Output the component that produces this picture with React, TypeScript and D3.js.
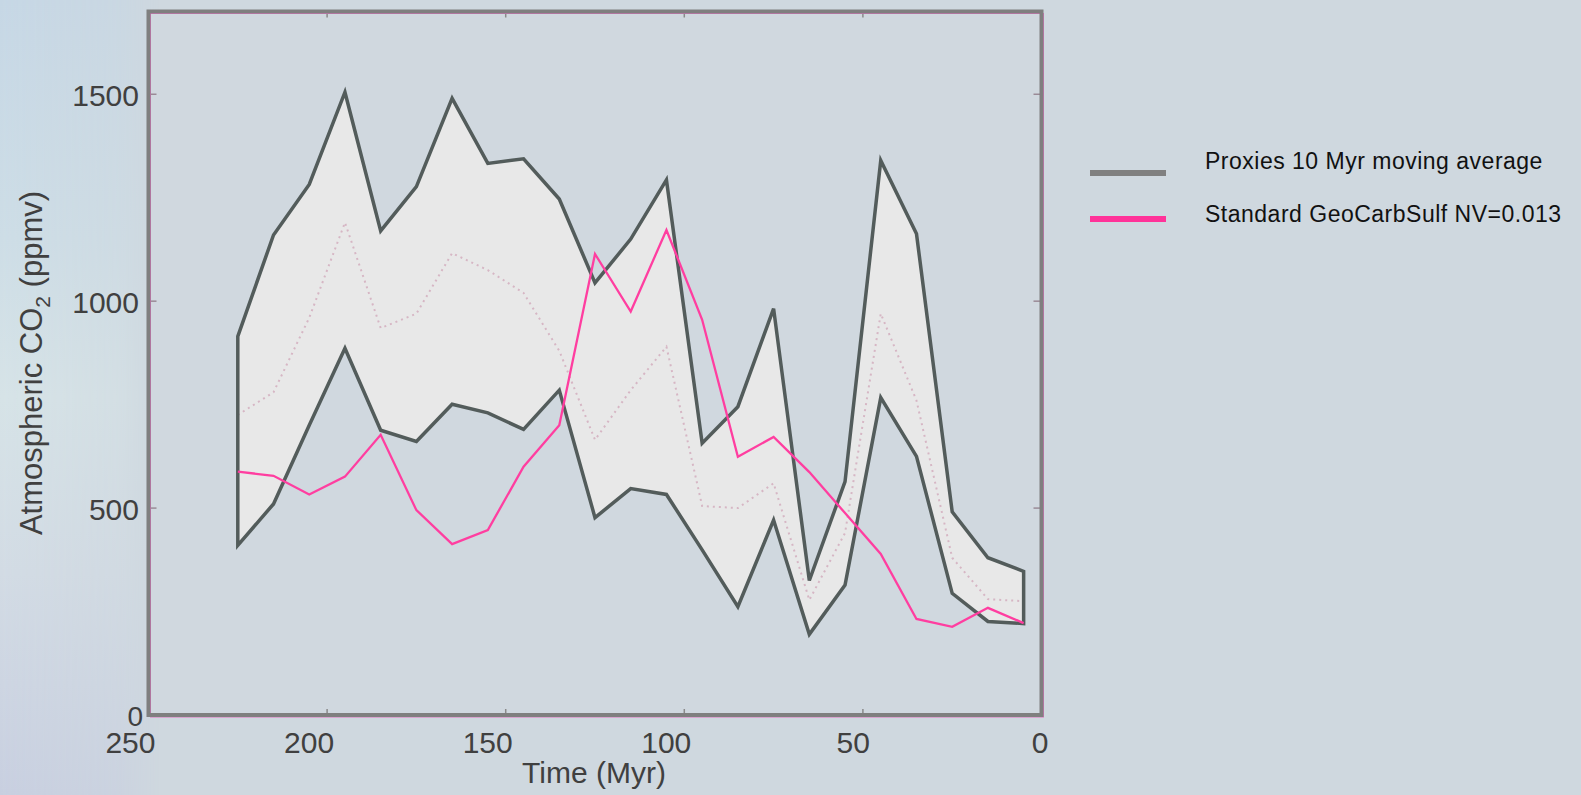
import React from "react";
import * as d3 from "d3";

const times = [225, 215, 205, 195, 185, 175, 165, 155, 145, 135, 125, 115, 105, 95, 85, 75, 65, 55, 45, 35, 25, 15, 5];
const proxyUpper = [915, 1160, 1282, 1505, 1170, 1277, 1490, 1333, 1344, 1247, 1044, 1150, 1293, 657, 745, 982, 325, 564, 1340, 1163, 491, 380, 347];
const proxyLower = [410, 510, 700, 886, 688, 661, 751, 730, 690, 785, 477, 547, 533, 399, 262, 471, 195, 314, 767, 625, 294, 226, 221];
const proxyMean = [725, 780, 960, 1190, 935, 970, 1116, 1075, 1020, 880, 665, 785, 890, 505, 500, 560, 278, 440, 970, 760, 380, 280, 275];
const geoCarbSulf = [588, 578, 533, 576, 677, 495, 413, 447, 600, 700, 1114, 975, 1172, 955, 624, 672, 587, 488, 389, 232, 213, 259, 222];
const xTicks = [250, 200, 150, 100, 50, 0];
const yTicks = [0, 500, 1000, 1500];
const legendLabels = ["Proxies 10 Myr moving average", "Standard GeoCarbSulf NV=0.013"];
const legendColors = ["#808080", "#ff3399"];

export default function App() {
  const W = 1581;
  const H = 795;
  const x = d3.scaleLinear().domain([250, 0]).range([148.5, 1041.5]);
  const y = d3.scaleLinear().domain([0, 1700]).range([715, 11.5]);

  const rows = times.map((t, i) => ({
    t,
    lo: proxyLower[i],
    hi: proxyUpper[i],
    m: proxyMean[i],
    g: geoCarbSulf[i],
  }));

  const area = d3
    .area<any>()
    .x((d) => x(d.t))
    .y0((d) => y(d.lo))
    .y1((d) => y(d.hi));
  const meanLine = d3
    .line<any>()
    .x((d) => x(d.t))
    .y((d) => y(d.m));
  const geoLine = d3
    .line<any>()
    .x((d) => x(d.t))
    .y((d) => y(d.g));

  const x0 = x(250);
  const x1 = x(0);
  const yTop = y(1700);
  const yBot = y(0);
  const font = "'Liberation Sans', Arial, Helvetica, sans-serif";
  const textCol = "#404040";

  return (
    <svg
      width={W}
      height={H}
      style={{ position: "absolute", left: 0, top: 0, display: "block" }}
      fontFamily={font}
    >
      <defs>
        <linearGradient id="leftbg" x1="0" y1="0" x2="0" y2="1">
          <stop offset="0" stopColor="#c6d7e5" />
          <stop offset="0.3" stopColor="#cddde6" />
          <stop offset="0.5" stopColor="#d6e3e7" />
          <stop offset="0.72" stopColor="#d2dbe4" />
          <stop offset="1" stopColor="#c8cfe0" />
        </linearGradient>
        <linearGradient id="leftfade" x1="0" y1="0" x2="1" y2="0">
          <stop offset="0" stopColor="#fff" stopOpacity="1" />
          <stop offset="0.75" stopColor="#fff" stopOpacity="0.6" />
          <stop offset="1" stopColor="#fff" stopOpacity="0" />
        </linearGradient>
        <mask id="leftmask">
          <rect x={0} y={0} width={160} height={H} fill="url(#leftfade)" />
        </mask>
      </defs>
      <rect x={0} y={0} width={W} height={H} fill="#cfd8df" />
      <rect x={0} y={0} width={160} height={H} fill="url(#leftbg)" mask="url(#leftmask)" />
      <rect x={x0} y={yTop} width={x1 - x0} height={yBot - yTop} fill="#d0d8df" />

      {/* proxy band */}
      <path d={area(rows) || ""} fill="#e8e8e8" stroke="none" />
      <path
        d={meanLine(rows) || ""}
        fill="none"
        stroke="#d6b6c4"
        strokeWidth={2}
        strokeDasharray="2,4"
      />
      <path
        d={area(rows) || ""}
        fill="none"
        stroke="#535c5b"
        strokeWidth={3.5}
        strokeLinejoin="miter"
      />
      <path
        d={geoLine(rows) || ""}
        fill="none"
        stroke="#ff3ea0"
        strokeWidth={2.3}
        strokeLinejoin="miter"
      />

      {/* ticks */}
      {xTicks.slice(1, -1).map((t) => (
        <g key={"xt" + t} stroke="#8a8a8a" strokeWidth={1.5}>
          <line x1={x(t)} x2={x(t)} y1={yBot} y2={yBot - 6} />
          <line x1={x(t)} x2={x(t)} y1={yTop} y2={yTop + 6} />
        </g>
      ))}
      {yTicks.slice(1).map((v) => (
        <g key={"yt" + v} stroke="#9a8a96" strokeWidth={1.5}>
          <line x1={x0} x2={x0 + 8} y1={y(v)} y2={y(v)} />
          <line x1={x1} x2={x1 - 8} y1={y(v)} y2={y(v)} />
        </g>
      ))}

      {/* frame */}
      <rect x={x0 + 2} y={yTop + 2} width={x1 - x0} height={yBot - yTop} fill="none" stroke="#e36fc0" strokeWidth={1} />
      <rect x={x0} y={yTop} width={x1 - x0} height={yBot - yTop} fill="none" stroke="#7f7f7f" strokeWidth={4} />

      {/* tick labels */}
      {yTicks.map((v) => (
        <text
          key={"yl" + v}
          x={v === 0 ? 143 : 139}
          y={v === 0 ? y(v) + 11 : y(v) + 12}
          textAnchor="end"
          fontSize={v === 0 ? 28 : 30}
          fill={textCol}
        >
          {v}
        </text>
      ))}
      {xTicks.map((t) => (
        <text
          key={"xl" + t}
          x={x(t) + 7}
          y={753}
          textAnchor="end"
          fontSize={30}
          fill={textCol}
        >
          {t}
        </text>
      ))}

      {/* axis titles */}
      <text x={594} y={783} textAnchor="middle" fontSize={30} fill={textCol}>
        Time (Myr)
      </text>
      <text
        transform={`translate(42,363) rotate(-90)`}
        textAnchor="middle"
        fontSize={31}
        fill={textCol}
      >
        Atmospheric CO
        <tspan fontSize={21} dy={8}>2</tspan>
        <tspan dy={-8}> (ppmv)</tspan>
      </text>

      {/* legend */}
      {legendLabels.map((lab, i) => (
        <g key={"lg" + i}>
          <line
            x1={1090}
            x2={1166}
            y1={173 + i * 46}
            y2={173 + i * 46}
            stroke={legendColors[i]}
            strokeWidth={6}
          />
          <text x={1205} y={169 + i * 52.5} fontSize={23} letterSpacing={0.5} fill="#111">
            {lab}
          </text>
        </g>
      ))}
    </svg>
  );
}
